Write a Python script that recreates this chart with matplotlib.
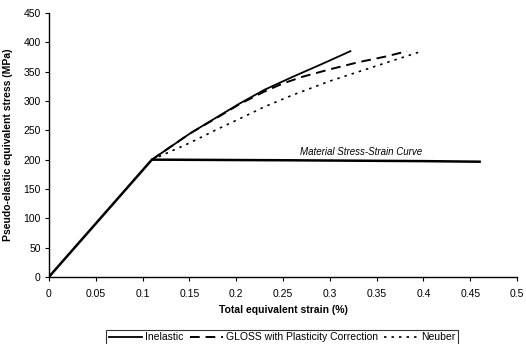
import matplotlib
matplotlib.use('agg')
import matplotlib.pyplot as plt

plt.rcParams['font.family'] = ['Liberation Sans', 'DejaVu Sans']

# elastic part of the material curve, then perfectly plastic
material_strain = [0, 0.11, 0.25, 0.40, 0.46]
material_stress = [0, 200, 199, 197.5, 196.5]

# pseudo-elastic stress vs total strain for each method
inelastic_strain = [0.11, 0.13, 0.151, 0.18, 0.204, 0.23, 0.26, 0.29, 0.322]
inelastic_stress = [200, 222, 245, 273, 296, 319, 341, 362, 385]

gloss_strain = [0.11, 0.13, 0.151, 0.18, 0.204, 0.23, 0.25, 0.27, 0.30, 0.33, 0.36, 0.3825]
gloss_stress = [200, 222, 245, 272, 295, 316, 330, 341, 354, 366, 376, 385]

neuber_strain = [0.11, 0.13, 0.151, 0.18, 0.204, 0.23, 0.26, 0.30, 0.35, 0.3964]
neuber_stress = [200, 214, 229, 252, 270, 290, 310, 334, 360, 384]

xticks = [0, 0.05, 0.1, 0.15, 0.2, 0.25, 0.3, 0.35, 0.4, 0.45, 0.5]
xticklabels = ['0', '0.05', '0.1', '0.15', '0.2', '0.25', '0.3', '0.35', '0.4', '0.45', '0.5']
yticks = list(range(0, 451, 50))

fig = plt.figure(figsize=(5.26, 3.44), dpi=100)
ax = fig.add_axes([0.093, 0.195, 0.89, 0.767])

ax.plot(material_strain, material_stress, color='black', lw=1.8)
ln1, = ax.plot(inelastic_strain, inelastic_stress, color='black', lw=1.3, label='Inelastic')
ln2, = ax.plot(gloss_strain, gloss_stress, color='black', lw=1.4, ls=(0, (5, 3)),
               label='GLOSS with Plasticity Correction')
ln3, = ax.plot(neuber_strain, neuber_stress, color='black', lw=1.2, ls=(0, (1.5, 3)),
               label='Neuber')

ax.text(0.333, 205, 'Material Stress-Strain Curve', style='italic', fontsize=7,
        ha='center', va='bottom')

ax.set_xlim(0, 0.5)
ax.set_ylim(0, 450)
ax.set_xticks(xticks)
ax.set_xticklabels(xticklabels)
ax.set_yticks(yticks)
ax.tick_params(labelsize=7.5, length=3, width=0.8, direction='out', pad=6)
ax.tick_params(axis='y', pad=3)
for s in ['top', 'right']:
    ax.spines[s].set_visible(False)
for s in ['left', 'bottom']:
    ax.spines[s].set_linewidth(1.0)

ax.set_xlabel('Total equivalent strain (%)', fontsize=7.5, fontweight='bold', labelpad=4)
ax.set_ylabel('Pseudo-elastic equivalent stress (MPa)', fontsize=7.5, fontweight='bold', labelpad=7)

leg = fig.legend(handles=[ln1, ln2, ln3], loc='lower center', bbox_to_anchor=(0.536, -0.003),
                 ncol=3, fontsize=7.5, frameon=True, fancybox=False, edgecolor='black',
                 handlelength=3.2, handletextpad=0.3, columnspacing=0.6,
                 borderpad=0.25, borderaxespad=0)
leg.get_frame().set_linewidth(0.8)

fig.savefig('out.png', dpi=100)
